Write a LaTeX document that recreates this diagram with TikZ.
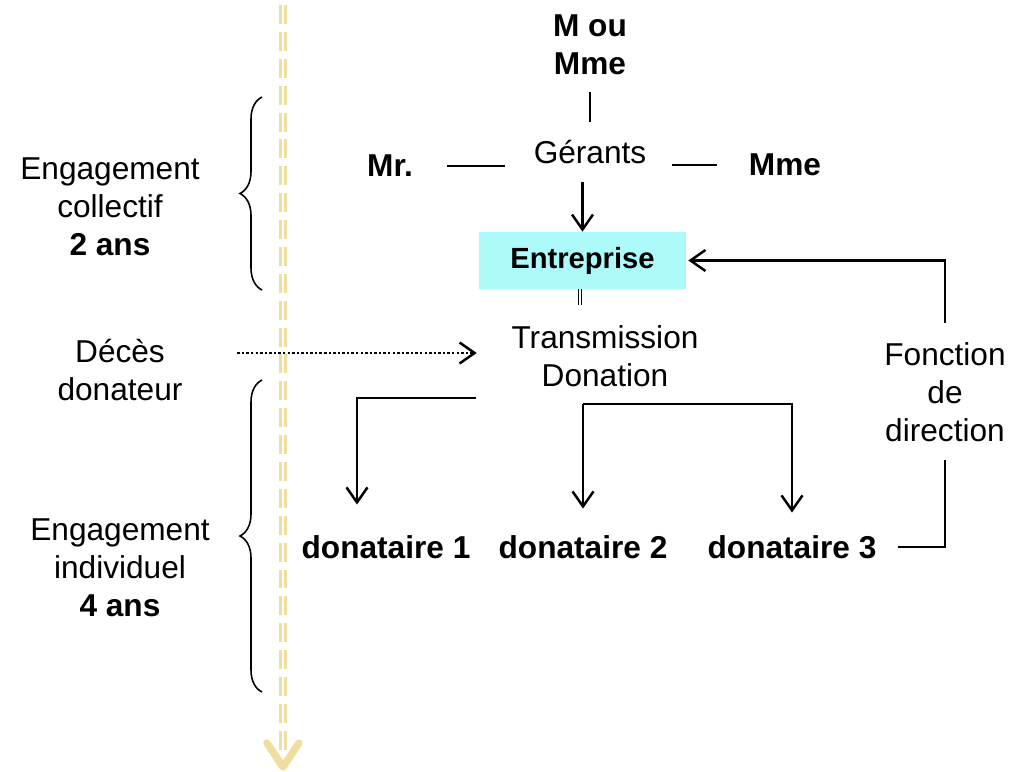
\documentclass[tikz,border=0pt]{standalone}
\usepackage{fontspec}
\setmainfont{Liberation Sans}
\usetikzlibrary{arrows.meta,decorations.pathreplacing}

\definecolor{boxcyan}{RGB}{173,250,250}
\definecolor{timeline}{RGB}{240,222,160}

\begin{document}
\begin{tikzpicture}[x=0.02cm, y=-0.02cm,
        txt/.style={inner sep=0pt, align=center, font=\fontsize{18}{21.5}\selectfont},
        btxt/.style={txt, font=\fontsize{18}{21.5}\selectfont\bfseries},
        conn/.style={black, line width=1.4pt},
        arr/.style={conn, -{Straight Barb[length=0.3cm, width=0.42cm, line width=1.4pt]}}]
            \useasboundingbox (0,0) rectangle (1010,771);

            \draw[timeline, line width=1.9pt, double=white, double distance=0.7pt, dash pattern=on 10.8pt off 4.5pt] (283,5) -- (283,758);
            \draw[timeline, line width=4.2pt, line cap=round, line join=round] (267,743) -- (283,767) -- (299,743);

            \draw[black, line width=0.9pt, decorate, decoration={brace, amplitude=0.44cm}] (262,290) -- (262,97);
            \draw[black, line width=0.9pt, decorate, decoration={brace, amplitude=0.44cm}] (262,692) -- (262,380);

            \node[txt] (collectif) at (110,207) {Engagement\\collectif\\\textbf{2 ans}};
            \node[txt] (deces) at (120,370) {Décès\\donateur};
            \node[txt] (individuel) at (120,568) {Engagement\\individuel\\\textbf{4 ans}};

            \node[btxt] (mou) at (590,45) {M ou\\Mme};
            \node[txt] (gerants) at (590,152) {Gérants};
            \node[btxt] (mr) at (390,166) {Mr.};
            \node[btxt] (mme) at (785,165) {Mme};
            \node[fill=boxcyan, minimum width=4.14cm, minimum height=1.14cm, font=\fontsize{16.6}{19}\selectfont\bfseries] (entreprise) at (582.5,260.5) {Entreprise};
            \node[txt] (transmission) at (605,356) {Transmission\\Donation};
            \node[btxt] (donataire1) at (386,547) {donataire 1};
            \node[btxt] (donataire2) at (583,547) {donataire 2};
            \node[btxt] (donataire3) at (792,547) {donataire 3};
            \node[txt] (fonction) at (945,392) {Fonction\\de\\direction};

            \draw[conn, line width=0.7pt, shorten <=0.33cm, shorten >=0.35cm] (mou.south) -- (gerants.north);
            \draw[conn, shorten <=0.68cm, shorten >=0.57cm] (mr.east) -- (mr.east -| gerants.west);
            \draw[conn, shorten <=0.51cm, shorten >=0.64cm] (gerants.east |- mme.west) -- (mme.west);
            \draw[arr, shorten <=0.36cm] (gerants.south -| entreprise.north) -- (entreprise.north);
            \draw[conn, line width=0.6pt, double, double distance=0.8pt, shorten >=0.41cm] ([xshift=-0.05cm]entreprise.south) -- ([xshift=-0.05cm]entreprise.south |- transmission.north);
            \draw[arr, dash pattern=on 1.4pt off 1.2pt, shorten <=1.09cm, shorten >=0.69cm] ([yshift=0.34cm]deces.east) -- ([yshift=0.34cm]deces.east -| transmission.west);
            \draw[arr, shorten >=0.61cm] ([xshift=-0.7cm, yshift=-0.22cm]transmission.south west) -| ([xshift=-0.58cm]donataire1.north);
            \draw[arr, shorten >=0.53cm] ([yshift=-0.34cm]transmission.south -| donataire2.north) -- (donataire2.north);
            \draw[arr, shorten >=0.45cm] ([yshift=-0.34cm]transmission.south -| donataire2.north) -| (donataire3.north);
            \draw[conn, shorten <=0.43cm, shorten >=0.37cm] (donataire3.east) -| (fonction.south);
            \draw[arr, shorten <=0.39cm, shorten >=0.04cm] (fonction.north) |- (entreprise.east);
        \end{tikzpicture}
\end{document}
